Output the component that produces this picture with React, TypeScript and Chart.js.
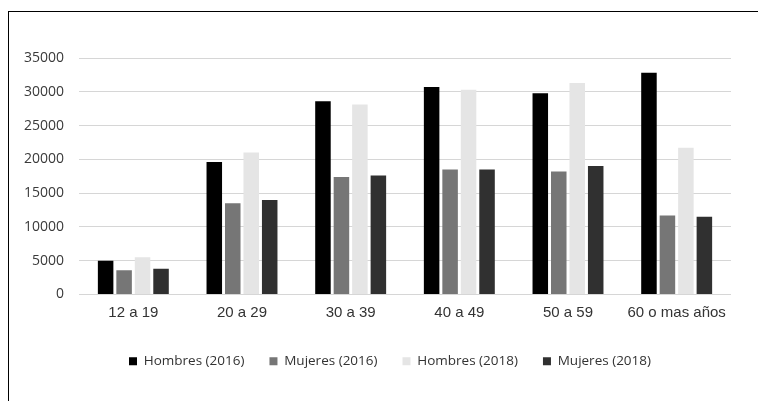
import React, { useEffect, useRef } from "react";
import { Chart, registerables } from "chart.js";

Chart.register(...registerables);

// Age groups on the x axis
const categories = ["12 a 19", "20 a 29", "30 a 39", "40 a 49", "50 a 59", "60 o mas años"];

// Counts per age group
const hombres2016 = [5000, 19600, 28600, 30700, 29800, 32800];
const mujeres2016 = [3600, 13500, 17400, 18500, 18200, 11700];
const hombres2018 = [5500, 21000, 28100, 30300, 31300, 21700];
const mujeres2018 = [3800, 14000, 17600, 18500, 19000, 11500];

// Y axis range and step
const yMin = 0;
const yMax = 35000;
const yStep = 5000;

// Centre the legend row under the whole figure rather than the full canvas width
const legendShift = {
  id: "legendShift",
  afterLayout(chart: any) {
    const lg = chart.legend;
    if (lg) {
      lg.left = 40;
    }
  },
};

export default function App() {
  const canvasRef = useRef<HTMLCanvasElement | null>(null);

  useEffect(() => {
    const canvas = canvasRef.current;
    if (!canvas) return;
    const chart = new Chart(canvas, {
      type: "bar",
      data: {
        labels: categories,
        datasets: [
          { label: "Hombres (2016)", data: hombres2016, backgroundColor: "#000000" },
          { label: "Mujeres (2016)", data: mujeres2016, backgroundColor: "#767676" },
          { label: "Hombres (2018)", data: hombres2018, backgroundColor: "#e5e5e5" },
          { label: "Mujeres (2018)", data: mujeres2018, backgroundColor: "#303030" },
        ],
      },
      plugins: [legendShift],
      options: {
        responsive: false,
        animation: false,
        datasets: {
          bar: { categoryPercentage: 0.68, barPercentage: 0.84 },
        },
        layout: { padding: { left: 0, right: 27, top: 46, bottom: 23 } },
        plugins: {
          tooltip: { enabled: false },
          legend: {
            position: "bottom",
            labels: {
              boxWidth: 8,
              boxHeight: 8,
              padding: 25,
              color: "#333333",
              font: { family: "'Open Sans', sans-serif", size: 13.5 },
            },
          },
        },
        scales: {
          x: {
            grid: { display: false },
            border: { display: false },
            ticks: {
              color: "#333333",
              padding: 1,
              font: { family: "'Liberation Sans', Arial, sans-serif", size: 15 },
            },
            afterFit: (scale: any) => {
              scale.height = 35;
            },
          },
          y: {
            min: yMin,
            max: yMax,
            border: { display: false },
            grid: { color: "#d6d6d6", lineWidth: 1, drawTicks: false },
            ticks: {
              stepSize: yStep,
              padding: 15,
              color: "#3a3a3a",
              font: { family: "'Open Sans', sans-serif", size: 14 },
              callback: (value: any) => String(value),
            },
            afterFit: (scale: any) => {
              scale.width = 70;
            },
          },
        },
      },
    });
    return () => chart.destroy();
  }, []);

  return (
    <div
      style={{
        position: "fixed",
        top: 11,
        left: 8,
        width: 750,
        height: 390,
        borderTop: "1px solid #000",
        borderLeft: "1px solid #000",
        boxSizing: "border-box",
        background: "#fff",
      }}
    >
      <canvas ref={canvasRef} width={749} height={389} style={{ display: "block" }} />
    </div>
  );
}
